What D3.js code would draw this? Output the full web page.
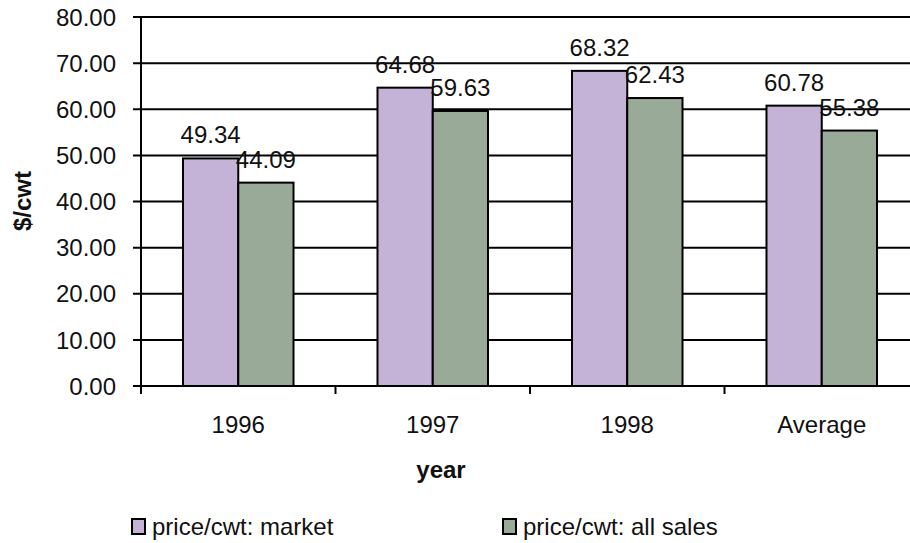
<!DOCTYPE html>
<html><head><meta charset="utf-8">
<script src="https://cdn.jsdelivr.net/npm/d3@7"></script>
<style>
html,body{margin:0;padding:0;background:#fff;}
svg{display:block;font-family:Arial,"Liberation Sans",sans-serif;}
</style></head>
<body>
<svg id="chart" width="910" height="543"></svg>
<script>
const categories = ["1996", "1997", "1998", "Average"];
const seriesNames = ["price/cwt: market", "price/cwt: all sales"];
const marketValues = [49.34, 64.68, 68.32, 60.78];
const allSalesValues = [44.09, 59.63, 62.43, 55.38];
const yTicks = [0, 10, 20, 30, 40, 50, 60, 70, 80];
const colors = ["#c4b3d6", "#9aaa98"];

(function(){
const svg = d3.select("#chart");
const FS = 24;
const pLeft = 141, pTop = 17, pBottom = 386, step = 194.5;
const x = d3.scaleBand().domain(categories).range([pLeft, pLeft + step * categories.length]).padding(0);
const sub = d3.scaleBand().domain([0, 1]).range([0, x.bandwidth()]).paddingInner(0).paddingOuter(0.76);
const y = d3.scaleLinear().domain([0, 80]).range([pBottom, pTop]);

const g = svg.append("g");
g.selectAll("line.grid").data(yTicks).join("line")
  .attr("x1", pLeft - 8).attr("x2", 910)
  .attr("y1", d => y(d)).attr("y2", d => y(d))
  .attr("stroke", "#000").attr("stroke-width", 2);
g.selectAll("text.ytick").data(yTicks).join("text")
  .attr("x", pLeft - 25).attr("y", d => y(d)).attr("dy", "0.36em")
  .attr("text-anchor", "end").attr("font-size", FS).attr("fill", "#111")
  .text(d => d.toFixed(2));

const series = [marketValues, allSalesValues];
series.forEach((vals, si) => {
  svg.append("g").selectAll("rect").data(categories).join("rect")
    .attr("x", c => x(c) + sub(si))
    .attr("width", sub.bandwidth())
    .attr("y", (c, i) => y(vals[i]))
    .attr("height", (c, i) => y(0) - y(vals[i]))
    .attr("fill", colors[si]).attr("stroke", "#000").attr("stroke-width", 2);
});
series.forEach((vals, si) => {
  svg.append("g").selectAll("text").data(categories).join("text")
    .attr("x", c => x(c) + sub(si) + sub.bandwidth() / 2)
    .attr("y", (c, i) => y(vals[i]) - 15)
    .attr("text-anchor", "middle").attr("font-size", FS).attr("fill", "#111")
    .text((c, i) => vals[i].toFixed(2));
});

svg.append("line").attr("x1", pLeft).attr("x2", pLeft).attr("y1", pTop).attr("y2", pBottom + 8)
  .attr("stroke", "#000").attr("stroke-width", 2);
svg.append("line").attr("x1", pLeft).attr("x2", 910).attr("y1", pBottom).attr("y2", pBottom)
  .attr("stroke", "#000").attr("stroke-width", 2);
const bounds = categories.map(c => x(c)).concat([x(categories[categories.length - 1]) + x.bandwidth()]);
svg.selectAll("line.xt").data(bounds).join("line")
  .attr("x1", d => d).attr("x2", d => d).attr("y1", pBottom).attr("y2", pBottom + 8)
  .attr("stroke", "#000").attr("stroke-width", 2);
svg.selectAll("text.xl").data(categories).join("text")
  .attr("x", c => x(c) + x.bandwidth() / 2).attr("y", 433)
  .attr("text-anchor", "middle").attr("font-size", FS).attr("fill", "#111")
  .text(c => c);

svg.append("text").attr("x", 441).attr("y", 478).attr("text-anchor", "middle")
  .attr("font-size", FS).attr("font-weight", "bold").attr("fill", "#111").text("year");
svg.append("text").attr("transform", "translate(31,201) rotate(-90)").attr("text-anchor", "middle")
  .attr("font-size", FS).attr("font-weight", "bold").attr("fill", "#111").text("$/cwt");

const legX = [132, 503];
seriesNames.forEach((n, i) => {
  svg.append("rect").attr("x", legX[i]).attr("y", 519).attr("width", 13).attr("height", 15)
    .attr("fill", colors[i]).attr("stroke", "#000").attr("stroke-width", 2);
  svg.append("text").attr("x", legX[i] + 20).attr("y", 535).attr("font-size", FS).attr("fill", "#111").text(n);
});
})();
</script>
</body></html>
